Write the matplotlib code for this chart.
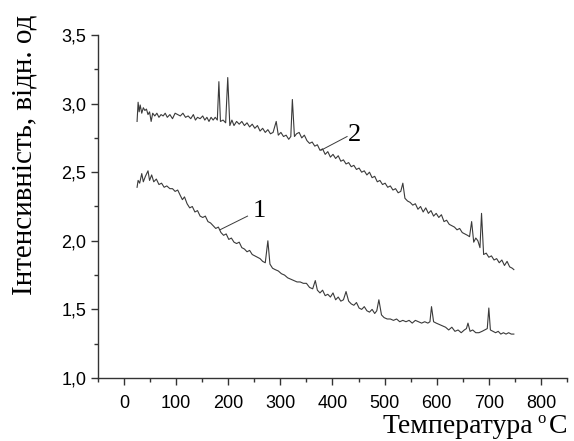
import matplotlib
matplotlib.use("Agg")
import matplotlib.pyplot as plt
from matplotlib.ticker import MultipleLocator, FuncFormatter

# curve 1 (lower)
t1 = [25, 27, 30, 34, 37, 41, 46, 49, 53, 57, 62, 67, 72, 77, 82, 88, 93, 98, 103, 108,
      112, 116, 121, 126, 131, 136, 141, 146, 151, 156, 161, 166, 171, 176, 181, 186, 191, 196, 201, 206,
      211, 216, 221, 226, 231, 236, 241, 246, 251, 256, 261, 266, 271, 276, 280, 285, 290, 296, 302, 308,
      314, 320, 326, 332, 338, 344, 350, 356, 362, 367, 371, 376, 381, 386, 391, 396, 401, 406, 411, 416,
      421, 426, 431, 436, 441, 446, 451, 456, 461, 466, 471, 476, 481, 485, 489, 494, 499, 505, 511, 517,
      523, 529, 535, 541, 547, 553, 559, 565, 571, 577, 583, 587, 590, 594, 599, 605, 611, 617, 623, 629,
      635, 641, 647, 653, 657, 660, 664, 669, 675, 681, 687, 692, 697, 700, 703, 708, 713, 718, 723, 728,
      733, 738, 743, 748]
i1 = [2.39, 2.44, 2.42, 2.49, 2.43, 2.47, 2.51, 2.44, 2.48, 2.43, 2.45, 2.41, 2.42, 2.39, 2.40, 2.38, 2.38, 2.36, 2.37, 2.33,
      2.30, 2.32, 2.27, 2.24, 2.25, 2.21, 2.22, 2.18, 2.17, 2.18, 2.14, 2.13, 2.11, 2.09, 2.10, 2.06, 2.04, 2.05, 2.01, 2.02,
      1.99, 1.98, 1.99, 1.95, 1.94, 1.92, 1.93, 1.90, 1.89, 1.88, 1.87, 1.85, 1.84, 2.00, 1.83, 1.80, 1.79, 1.78, 1.76, 1.75,
      1.73, 1.72, 1.71, 1.70, 1.70, 1.69, 1.69, 1.66, 1.65, 1.71, 1.64, 1.62, 1.64, 1.60, 1.61, 1.59, 1.62, 1.57, 1.59, 1.56,
      1.57, 1.63, 1.56, 1.54, 1.53, 1.55, 1.51, 1.50, 1.52, 1.49, 1.48, 1.50, 1.47, 1.49, 1.57, 1.46, 1.44, 1.43, 1.43, 1.42,
      1.43, 1.41, 1.42, 1.41, 1.42, 1.40, 1.42, 1.41, 1.40, 1.41, 1.40, 1.41, 1.52, 1.41, 1.40, 1.39, 1.38, 1.37, 1.35, 1.37,
      1.34, 1.35, 1.33, 1.35, 1.36, 1.40, 1.34, 1.35, 1.33, 1.33, 1.34, 1.35, 1.36, 1.51, 1.35, 1.34, 1.33, 1.34, 1.32, 1.33,
      1.32, 1.33, 1.32, 1.32]

# curve 2 (upper)
t2 = [25, 27, 29, 31, 34, 37, 40, 43, 46, 49, 52, 55, 59, 63, 67, 71, 75, 79, 83, 88,
      93, 98, 103, 108, 113, 118, 123, 128, 133, 137, 141, 146, 151, 155, 159, 163, 167, 171, 175, 179,
      182, 185, 190, 195, 199, 203, 207, 211, 216, 221, 226, 231, 236, 241, 246, 251, 256, 261, 266, 271,
      276, 281, 286, 292, 296, 301, 306, 311, 316, 320, 323, 327, 331, 336, 341, 346, 351, 356, 361, 366,
      371, 376, 381, 386, 391, 396, 401, 406, 411, 416, 421, 426, 431, 436, 441, 446, 451, 456, 461, 466,
      471, 476, 481, 486, 491, 496, 501, 506, 511, 516, 521, 526, 531, 535, 539, 544, 549, 554, 559, 564,
      569, 574, 579, 584, 589, 594, 599, 604, 609, 614, 619, 624, 629, 634, 639, 644, 649, 654, 659, 663,
      667, 671, 675, 679, 683, 686, 690, 695, 700, 705, 710, 715, 720, 725, 730, 735, 740, 745, 748]
i2 = [2.87, 3.01, 2.94, 2.99, 2.93, 2.97, 2.95, 2.96, 2.92, 2.94, 2.87, 2.93, 2.91, 2.93, 2.90, 2.92, 2.91, 2.93, 2.90, 2.92,
      2.89, 2.93, 2.92, 2.91, 2.93, 2.90, 2.91, 2.89, 2.92, 2.88, 2.90, 2.89, 2.91, 2.88, 2.90, 2.87, 2.90, 2.88, 2.90, 2.88,
      3.16, 2.87, 2.88, 2.86, 3.19, 2.84, 2.88, 2.84, 2.87, 2.85, 2.87, 2.84, 2.86, 2.83, 2.85, 2.82, 2.84, 2.80, 2.82, 2.79,
      2.81, 2.78, 2.79, 2.87, 2.77, 2.79, 2.76, 2.77, 2.74, 2.76, 3.03, 2.76, 2.78, 2.79, 2.75, 2.77, 2.73, 2.71, 2.72, 2.69,
      2.70, 2.66, 2.67, 2.63, 2.65, 2.61, 2.63, 2.60, 2.62, 2.58, 2.59, 2.56, 2.57, 2.54, 2.55, 2.52, 2.53, 2.50, 2.51, 2.48,
      2.50, 2.46, 2.47, 2.43, 2.44, 2.41, 2.42, 2.39, 2.40, 2.37, 2.38, 2.35, 2.36, 2.42, 2.31, 2.29, 2.28, 2.26, 2.27, 2.23,
      2.25, 2.21, 2.24, 2.20, 2.22, 2.18, 2.20, 2.17, 2.19, 2.14, 2.15, 2.12, 2.11, 2.10, 2.08, 2.09, 2.06, 2.05, 2.04, 2.03,
      2.14, 1.99, 2.02, 2.00, 1.95, 2.20, 1.90, 1.91, 1.88, 1.89, 1.86, 1.87, 1.84, 1.86, 1.82, 1.85, 1.81, 1.80, 1.79]

fig = plt.figure(figsize=(5.74, 4.41), dpi=100)
ax = fig.add_axes([0.1707, 0.1429, 0.8171, 0.7777])

ax.plot(t1, i1, color="#3a3a3a", lw=0.8)
ax.plot(t2, i2, color="#3a3a3a", lw=0.8)

# curve labels with leader lines
ax.plot([184, 237], [2.08, 2.18], color="#3a3a3a", lw=0.7)
ax.text(260, 2.22, "1", family="Liberation Serif", fontsize=19, ha="center", va="center")
ax.plot([378, 428], [2.66, 2.76], color="#3a3a3a", lw=0.7)
ax.text(443, 2.77, "2", family="Liberation Serif", fontsize=19, ha="center", va="center")

ax.set_xlim(-50, 850)
ax.set_ylim(1.0, 3.5)
ax.xaxis.set_major_locator(MultipleLocator(100))
ax.xaxis.set_minor_locator(MultipleLocator(50))
ax.yaxis.set_major_locator(MultipleLocator(0.5))
ax.yaxis.set_minor_locator(MultipleLocator(0.25))
ax.yaxis.set_major_formatter(FuncFormatter(lambda v, p: f"{v:.1f}".replace(".", ",")))

for s in ["top", "right"]:
    ax.spines[s].set_visible(False)
for s in ["left", "bottom"]:
    ax.spines[s].set_color("#333333")
    ax.spines[s].set_linewidth(1.0)

ax.tick_params(which="major", direction="out", length=5, width=1.0, color="#333333",
               labelsize=13)
ax.tick_params(axis="x", which="major", pad=7)
ax.tick_params(which="minor", direction="out", length=3, width=1.0, color="#333333")
for lab in ax.get_xticklabels() + ax.get_yticklabels():
    lab.set_family("Liberation Sans")

# x label built from pieces: small raised "o" before C
fig.text(0.928, 0.019, "Температура", family="Liberation Serif", fontsize=20,
         ha="right", va="baseline")
fig.text(0.936, 0.041, "o", family="Liberation Serif", fontsize=12,
         ha="left", va="baseline")
fig.text(0.988, 0.019, "C", family="Liberation Serif", fontsize=20,
         ha="right", va="baseline")
fig.text(0.042, 0.966, "Інтенсивність, відн. од", family="Liberation Serif", fontsize=21,
         rotation=90, ha="center", va="top")

fig.savefig("out.png", dpi=100)
